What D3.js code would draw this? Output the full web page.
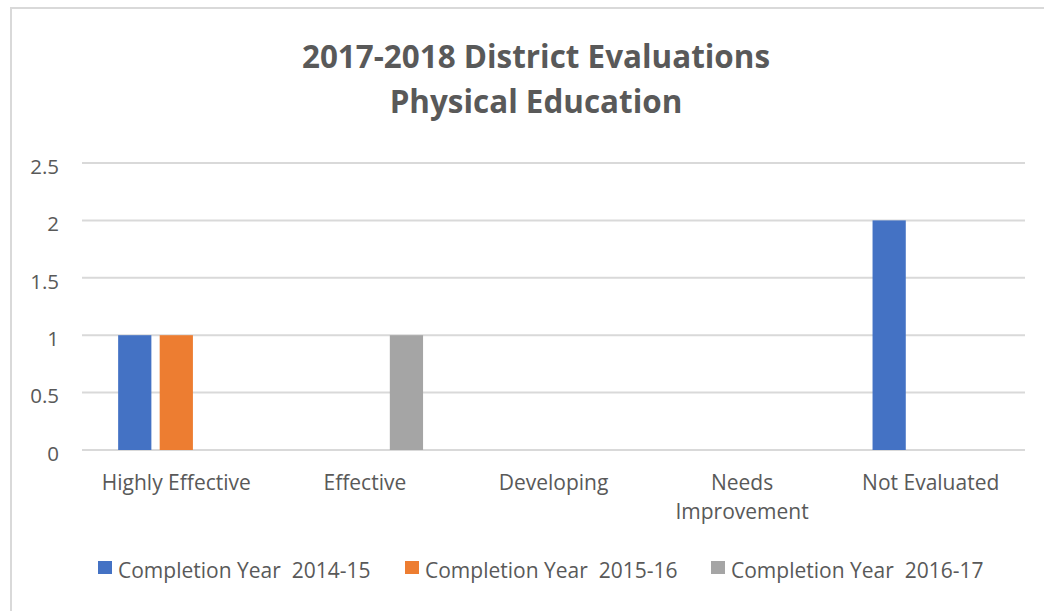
<!DOCTYPE html>
<html>
<head>
<meta charset="utf-8">
<script src="https://cdn.jsdelivr.net/npm/d3@7"></script>
<style>
  html, body { margin: 0; padding: 0; background: #fff; }
  svg text { font-family: "Open Sans", "Noto Sans", sans-serif; white-space: pre; }
</style>
</head>
<body>
<svg id="chart" width="1044" height="611"></svg>
<script>
const titleLines = ["2017-2018 District Evaluations", "Physical Education"];
const categories = ["Highly Effective", "Effective", "Developing", "Needs Improvement", "Not Evaluated"];
const categoryLabelLines = [["Highly Effective"], ["Effective"], ["Developing"], ["Needs", "Improvement"], ["Not Evaluated"]];
const seriesNames = ["Completion Year  2014-15", "Completion Year  2015-16", "Completion Year  2016-17"];
const series2014 = [1, 0, 0, 0, 2];
const series2015 = [1, 0, 0, 0, 0];
const series2016 = [0, 1, 0, 0, 0];
const seriesColors = ["#4472C4", "#ED7D31", "#A5A5A5"];
const yTicks = [0, 0.5, 1, 1.5, 2, 2.5];

const allSeries = [series2014, series2015, series2016];
const svg = d3.select("#chart");
const W = 1044, H = 611;
const textColor = "#595959";

// chart frame (top/left border visible)
svg.append("path")
  .attr("d", `M11,${H} L11,8 L${W},8`)
  .attr("fill", "none").attr("stroke", "#d9d9d9").attr("stroke-width", 2);

const plot = { left: 82, right: 1025, top: 163, bottom: 450 };

const x0 = d3.scaleBand().domain(categories).range([plot.left, plot.right]).paddingInner(0).paddingOuter(0);
const x1 = d3.scaleBand().domain(d3.range(seriesNames.length)).range([0, x0.bandwidth()])
  .paddingInner(0.2).paddingOuter(0.87);
const y = d3.scaleLinear().domain([0, 2.5]).range([plot.bottom, plot.top]);

// gridlines
svg.append("g").selectAll("line").data(yTicks).join("line")
  .attr("x1", plot.left).attr("x2", plot.right)
  .attr("y1", d => y(d)).attr("y2", d => y(d))
  .attr("stroke", "#d9d9d9").attr("stroke-width", 2);

// y axis labels
const yAxis = d3.axisLeft(y).tickValues(yTicks).tickSize(0).tickPadding(0).tickFormat(d => String(d));
const yg = svg.append("g").attr("transform", `translate(59,0)`).call(yAxis);
yg.select(".domain").remove();
yg.selectAll("text").attr("fill", textColor).attr("font-size", 20.5)
  .attr("font-family", "Open Sans").attr("dy", "0.5em");

// bars
const rows = categories.map((c, i) => ({ c, vals: allSeries.map(s => s[i]) }));
const groups = svg.append("g").selectAll("g").data(rows).join("g")
  .attr("transform", d => `translate(${x0(d.c)},0)`);
groups.selectAll("rect").data(d => d.vals.map((v, k) => ({ v, k })).filter(e => e.v > 0)).join("rect")
  .attr("x", d => x1(d.k)).attr("width", x1.bandwidth())
  .attr("y", d => y(d.v)).attr("height", d => y(0) - y(d.v))
  .attr("fill", d => seriesColors[d.k]);

// category labels
const cl = svg.append("g").selectAll("text").data(categories).join("text")
  .attr("x", d => x0(d) + x0.bandwidth() / 2)
  .attr("y", 490)
  .attr("text-anchor", "middle").attr("fill", textColor).attr("font-size", 21);
cl.selectAll("tspan").data((d, i) => categoryLabelLines[i]).join("tspan")
  .attr("x", function () { return d3.select(this.parentNode).attr("x"); })
  .attr("dy", (d, i) => i === 0 ? 0 : 29)
  .text(d => d);

// title
svg.append("g").selectAll("text").data(titleLines).join("text")
  .attr("x", 536).attr("y", (d, i) => 68 + i * 45)
  .attr("text-anchor", "middle").attr("fill", textColor)
  .attr("font-size", 31.4).attr("font-weight", "bold")
  .text(d => d);

// legend
const legendX = [98, 405, 711];
const lg = svg.append("g").selectAll("g").data(seriesNames).join("g")
  .attr("transform", (d, i) => `translate(${legendX[i]},561)`);
lg.append("rect").attr("width", 14).attr("height", 13).attr("fill", (d, i) => seriesColors[i]);
lg.append("text").attr("x", 20).attr("y", 17).attr("fill", textColor).attr("font-size", 21).text(d => d);
</script>
</body>
</html>
